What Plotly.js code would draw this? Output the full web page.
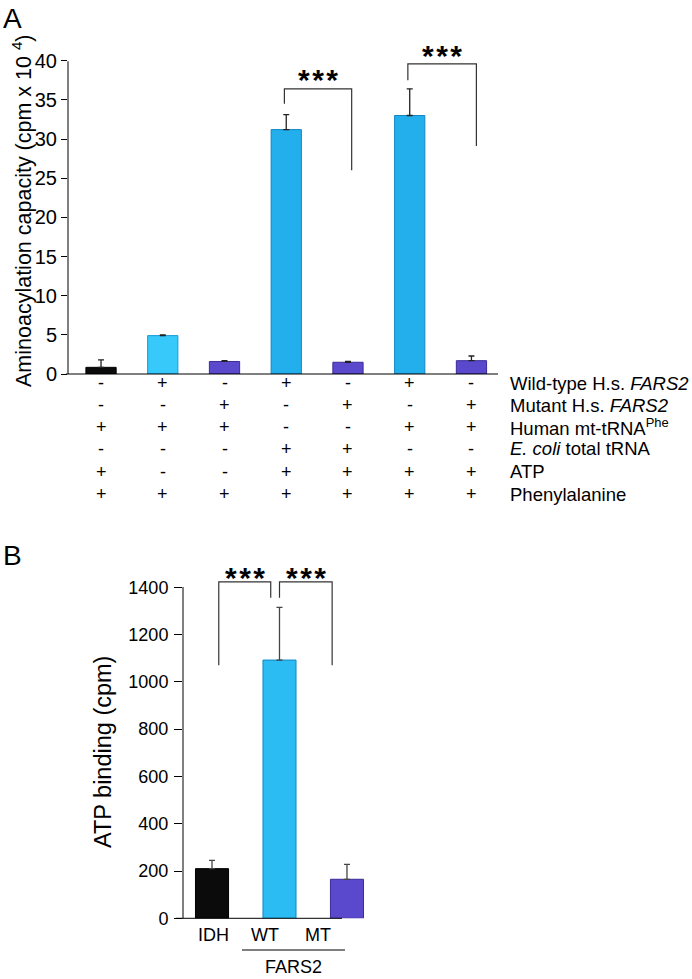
<!DOCTYPE html>
<html>
<head>
<meta charset="utf-8">
<script src="https://cdn.plot.ly/plotly-3.0.1.min.js"></script>
<style>html,body{margin:0;padding:0;background:#fff;}#chart{width:692px;height:979px;}</style>
</head>
<body>
<div id="chart"></div>
<script>
// ---------- DATA ----------
// Panel A
const conditionsA = [0, 1, 2, 3, 4, 5, 6];
const valuesA = [0.85, 4.9, 1.6, 31.2, 1.5, 33.0, 1.7];
const errorsA = [0.95, 0.1, 0.1, 1.9, 0.1, 3.4, 0.6];
const rowLabelsA = [
  'Wild-type H.s. <i>FARS2</i>',
  'Mutant H.s. <i>FARS2</i>',
  'Human mt-tRNA<sup>Phe</sup>',
  '<i>E. coli</i> total tRNA',
  'ATP',
  'Phenylalanine'
];
const wildType   = ['-', '+', '-', '+', '-', '+', '-'];
const mutant     = ['-', '-', '+', '-', '+', '-', '+'];
const mtTRNA     = ['+', '+', '+', '-', '-', '+', '+'];
const ecoliTRNA  = ['-', '-', '-', '+', '+', '-', '-'];
const atp        = ['+', '-', '-', '+', '+', '+', '+'];
const phe        = ['+', '+', '+', '+', '+', '+', '+'];
const tableRowsA = [wildType, mutant, mtTRNA, ecoliTRNA, atp, phe];
const ticksA = [0, 5, 10, 15, 20, 25, 30, 35, 40];
// significance brackets A: [xLeft, xRight, yLeftBottom, yTop, yRightBottom]
const bracketsA = [
  [2.97, 4.06, 34.5, 36.4, 26.0],
  [4.97, 6.08, 37.5, 39.6, 29.1]
];
const starsA = ['***', '***'];
const starYA = [38.3, 41.4];

// Panel B
const groupsB = ['IDH', 'WT', 'MT'];
const valuesB = [210, 1092, 165];
const errorsB = [35, 223, 63];
const ticksB = [0, 200, 400, 600, 800, 1000, 1200, 1400];
const bracketsB = [
  [0.10, 0.87, 1070, 1423, 1355],
  [1.00, 1.78, 1355, 1423, 1070]
];
const starsB = ['***', '***'];
const starYB = [1466, 1466];

// ---------- LAYOUT HELPERS ----------
const W = 692, H = 979;
const px = x => x / W;
const py = y => 1 - y / H;
const FONT = 'Liberation Sans, Arial, Helvetica, sans-serif';

const colorsA = ['#0b0b0b', '#36c9f9', '#5b49cd', '#22afec', '#5b49cd', '#22afec', '#5b49cd'];
const edgesA  = ['#000000', '#1a9bd6', '#3a2c96', '#1287c4', '#3a2c96', '#1287c4', '#3a2c96'];
const colorsB = ['#0b0b0b', '#2bbcf4', '#5b49cd'];
const edgesB  = ['#000000', '#1287c4', '#3a2c96'];

const traces = [
  {
    type: 'bar', x: conditionsA, y: valuesA, width: 0.49,
    marker: {color: colorsA, line: {color: edgesA, width: 1}},
    error_y: {type: 'data', array: errorsA, arrayminus: errorsA.map(() => 0), symmetric: false,
              color: '#222', thickness: 1.3, width: 3},
    xaxis: 'x', yaxis: 'y', hoverinfo: 'none', showlegend: false
  },
  {
    type: 'bar', x: [0, 1, 2], y: valuesB, width: 0.49,
    marker: {color: colorsB, line: {color: edgesB, width: 1}},
    error_y: {type: 'data', array: errorsB, arrayminus: errorsB.map(() => 0), symmetric: false,
              color: '#444', thickness: 1.3, width: 3},
    xaxis: 'x2', yaxis: 'y2', hoverinfo: 'none', showlegend: false
  }
];

const shapes = [];
const annotations = [];

// axis lines
shapes.push({type: 'line', xref: 'paper', yref: 'paper', x0: px(68), x1: px(68), y0: py(374), y1: py(61.3), line: {color: '#000', width: 1}});
shapes.push({type: 'line', xref: 'paper', yref: 'paper', x0: px(66), x1: px(498), y0: py(374), y1: py(374), line: {color: '#000', width: 1}});
shapes.push({type: 'line', xref: 'paper', yref: 'paper', x0: px(183), x1: px(183), y0: py(918.3), y1: py(587), line: {color: '#000', width: 1}});
shapes.push({type: 'line', xref: 'paper', yref: 'paper', x0: px(176), x1: px(342), y0: py(918.3), y1: py(918.3), line: {color: '#000', width: 1}});
// FARS2 underline
shapes.push({type: 'line', xref: 'paper', yref: 'paper', x0: px(242), x1: px(345), y0: py(950), y1: py(950), line: {color: '#000', width: 1}});

function addBracket(b, xr, yr) {
  const [xl, xrt, yl, yt, yrb] = b;
  shapes.push({type: 'path', xref: xr, yref: yr,
    path: `M ${xl} ${yl} L ${xl} ${yt} L ${xrt} ${yt} L ${xrt} ${yrb}`,
    line: {color: '#333', width: 1.2}});
}
bracketsA.forEach(b => addBracket(b, 'x', 'y'));
bracketsB.forEach(b => addBracket(b, 'x2', 'y2'));

const STAR_SIZE = 30;
const starText = s => s.split('').join('\u200A');
bracketsA.forEach((b, i) => {
  annotations.push({xref: 'x', yref: 'y', x: (b[0] + b[1]) / 2, y: starYA[i], xanchor: 'center', yanchor: 'middle',
    yshift: -0.2 * STAR_SIZE,
    text: starText(starsA[i]), showarrow: false, font: {family: FONT, size: STAR_SIZE, color: '#000', weight: 'bold'}});
});
bracketsB.forEach((b, i) => {
  annotations.push({xref: 'x2', yref: 'y2', x: (b[0] + b[1]) / 2, y: starYB[i], xanchor: 'center', yanchor: 'middle',
    yshift: -0.2 * STAR_SIZE,
    text: starText(starsB[i]), showarrow: false, font: {family: FONT, size: STAR_SIZE, color: '#000', weight: 'bold'}});
});

// +/- table
const rowY = [383, 405, 427, 449, 471.5, 494];
tableRowsA.forEach((row, r) => {
  row.forEach((s, c) => {
    annotations.push({xref: 'x', yref: 'paper', x: conditionsA[c], y: py(rowY[r]), xanchor: 'center', yanchor: 'middle',
      text: s, showarrow: false, font: {family: FONT, size: 18, color: '#000'}});
  });
  annotations.push({xref: 'paper', yref: 'paper', x: px(508), y: py(rowY[r]), xanchor: 'left', yanchor: 'middle',
    text: rowLabelsA[r], showarrow: false, font: {family: FONT, size: 18.5, color: '#000'}});
});

// B category labels
const labelXB = [213, 265, 318];
groupsB.forEach((g, i) => {
  annotations.push({xref: 'paper', yref: 'paper', x: px(labelXB[i]), y: py(935), xanchor: 'center', yanchor: 'middle',
    text: g, showarrow: false, font: {family: FONT, size: 18, color: '#000'}});
});
annotations.push({xref: 'paper', yref: 'paper', x: px(293), y: py(967), xanchor: 'center', yanchor: 'middle',
  text: 'FARS2', showarrow: false, font: {family: FONT, size: 18, color: '#000'}});

// axis titles
annotations.push({xref: 'paper', yref: 'paper', x: px(22), y: py(211), xanchor: 'center', yanchor: 'middle', textangle: -90,
  text: 'Aminoacylation capacity (cpm x 10 <sup>4</sup>)', showarrow: false,
  font: {family: FONT, size: 21.5, color: '#000'}});
annotations.push({xref: 'paper', yref: 'paper', x: px(103), y: py(752), xanchor: 'center', yanchor: 'middle', textangle: -90,
  text: 'ATP binding (cpm)', showarrow: false,
  font: {family: FONT, size: 23.5, color: '#000'}});

// panel letters
annotations.push({xref: 'paper', yref: 'paper', x: px(1), y: py(18), xanchor: 'left', yanchor: 'middle',
  text: 'A', showarrow: false, font: {family: FONT, size: 28, color: '#000'}});
annotations.push({xref: 'paper', yref: 'paper', x: px(1), y: py(555), xanchor: 'left', yanchor: 'middle',
  text: 'B', showarrow: false, font: {family: FONT, size: 28, color: '#000'}});

const layout = {
  width: W, height: H,
  margin: {l: 0, r: 0, t: 0, b: 0},
  paper_bgcolor: '#fff', plot_bgcolor: 'rgba(0,0,0,0)',
  showlegend: false,
  font: {family: FONT, color: '#000'},
  xaxis: {domain: [px(68), px(498)], range: [-0.535, 6.43], showline: false, showgrid: false,
          zeroline: false, showticklabels: false, ticks: '', fixedrange: true},
  yaxis: {domain: [py(374), py(45.0)], range: [0, 42], showline: false, showgrid: false, zeroline: false,
          tickmode: 'array', tickvals: ticksA, ticktext: ticksA.map(String), ticks: 'outside', ticklen: 6,
          tickcolor: '#000', tickwidth: 1, tickfont: {family: FONT, size: 20, color: '#000'}, ticklabelstandoff: 0},
  xaxis2: {domain: [px(183), px(365)], range: [-0.43, 2.267], anchor: 'y2', showline: false, showgrid: false,
           zeroline: false, showticklabels: false, ticks: '', fixedrange: true},
  yaxis2: {domain: [py(918.3), py(568.3)], range: [0, 1480], anchor: 'x2', showline: false, showgrid: false,
           zeroline: false, tickmode: 'array', tickvals: ticksB, ticktext: ticksB.map(String), ticks: 'outside',
           ticklen: 8, tickcolor: '#000', tickwidth: 1, tickfont: {family: FONT, size: 18, color: '#000'},
           ticklabelstandoff: 2},
  shapes: shapes,
  annotations: annotations
};

Plotly.newPlot('chart', traces, layout, {staticPlot: true, displayModeBar: false});
</script>
</body>
</html>
